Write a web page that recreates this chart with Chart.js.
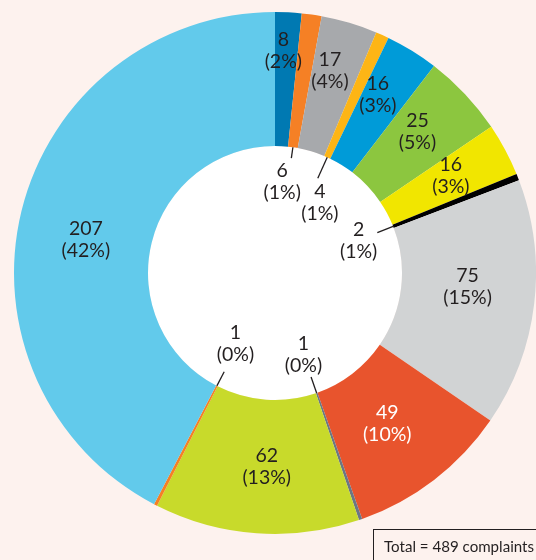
<!DOCTYPE html>
<html>
<head>
<meta charset="utf-8">
<script src="https://cdn.jsdelivr.net/npm/chart.js@4.4.0/dist/chart.umd.min.js"></script>
<style>
  html, body { margin:0; padding:0; background:#fdf2ee; overflow:hidden; }
  #wrap { position:relative; width:536px; height:560px; }
  #box { position:absolute; left:373px; top:529px; width:200px; height:60px; border:1px solid #231f20;
         font-family:Lato, "Open Sans", sans-serif; font-weight:400; font-size:15.1px; color:#231f20; box-sizing:border-box;
         padding:7px 0 0 10px; white-space:nowrap; }
</style>
</head>
<body>
<div id="wrap">
  <canvas id="c" width="536" height="560"></canvas>
  <div id="box">Total = 489 complaints</div>
</div>
<script>
// ---- data ----
const categories = ['S1','S2','S3','S4','S5','S6','S7','S8','S9','S10','S11','S12','S13','S14'];
const values      = [8, 6, 17, 4, 16, 25, 16, 2, 75, 49, 1, 62, 1, 207];
const percentages = [2, 1, 4, 1, 3, 5, 3, 1, 15, 10, 0, 13, 0, 42];
const colors = ['#0079b2','#f58025','#a7a9ac','#fdb515','#009bd8','#8cc63f','#f1e600','#000000',
                '#d1d3d4','#e8542d','#6c7684','#c8da2b','#f58025','#62caeb'];

const FONT = '400 19.5px Lato, "Open Sans", sans-serif';

const labelPlugin = {
  id: 'sliceLabels',
  beforeDatasetsDraw(chart) {
    const arc = chart.getDatasetMeta(0).data[0];
    const ctx = chart.ctx;
    ctx.save();
    ctx.fillStyle = '#ffffff';
    ctx.beginPath();
    ctx.arc(arc.x, arc.y, arc.innerRadius, 0, Math.PI * 2);
    ctx.fill();
    ctx.restore();
  },
  afterDatasetsDraw(chart, args, opts) {
    const ctx = chart.ctx;
    const meta = chart.getDatasetMeta(0);
    ctx.save();
    ctx.font = FONT;
    ctx.textAlign = 'center';
    ctx.textBaseline = 'middle';
    meta.data.forEach((a, i) => {
      const l1 = String(values[i]);
      const l2 = '(' + percentages[i] + '%)';
      const mid = (a.startAngle + a.endAngle) / 2;
      let cx, cy;
      if (opts.leaders[i] !== undefined) {
        const dx = Math.cos(mid), dy = Math.sin(mid);
        const r0 = a.innerRadius, r1 = a.innerRadius - opts.leaders[i];
        const x0 = a.x + dx * r0, y0 = a.y + dy * r0;
        const x1 = a.x + dx * r1, y1 = a.y + dy * r1;
        ctx.strokeStyle = '#231f20';
        ctx.lineWidth = 1.3;
        ctx.beginPath(); ctx.moveTo(x0, y0); ctx.lineTo(x1, y1); ctx.stroke();
        const w = Math.max(ctx.measureText(l1).width, ctx.measureText(l2).width);
        const hw = w / 2 + 3, hh = 22;
        const k = Math.min(Math.abs(dx) > 1e-6 ? hw / Math.abs(dx) : 1e9, Math.abs(dy) > 1e-6 ? hh / Math.abs(dy) : 1e9);
        const nudge = opts.leaderNudge[i] || [0, 0];
        cx = x1 - dx * k + nudge[0]; cy = y1 - dy * k + nudge[1];
      } else {
        const p = opts.placement[i] || [opts.defaultRadius, 0];
        const ang = mid + p[1] * Math.PI / 180;
        cx = a.x + Math.cos(ang) * p[0]; cy = a.y + Math.sin(ang) * p[0];
      }
      ctx.fillStyle = opts.white.includes(i) ? '#ffffff' : '#231f20';
      ctx.fillText(l1, cx, cy - 11);
      ctx.fillText(l2, cx, cy + 11);
    });
    ctx.restore();
  }
};

new Chart(document.getElementById('c'), {
  type: 'doughnut',
  data: {
    labels: categories,
    datasets: [{ data: values, backgroundColor: colors, borderWidth: 0, hoverOffset: 0 }]
  },
  options: {
    responsive: false,
    animation: false,
    cutout: 127,
    radius: 261,
    layout: { padding: { left: 14, right: 0, top: 12, bottom: 26 } },
    plugins: {
      legend: { display: false },
      tooltip: { enabled: false },
      sliceLabels: {
        leaders: { 1: 11, 3: 23, 7: 17, 10: 17, 12: 16 },
        leaderNudge: { 1: [-6, 2], 3: [12, 3], 7: [3, 0], 12: [0, -6] },
        defaultRadius: 193,
        // [radius, angle offset in degrees] relative to slice mid-angle
        placement: { 0: [222, -0.8], 2: [210, -1.4], 4: [206, -1.7], 5: [201, -1.6], 6: [201, -0.8],
                     8: [193, -2.7], 9: [188, 0.9], 11: [194, -1.6], 13: [192, -3.9] },
        white: [9]
      }
    }
  },
  plugins: [labelPlugin]
});
</script>
</body>
</html>
